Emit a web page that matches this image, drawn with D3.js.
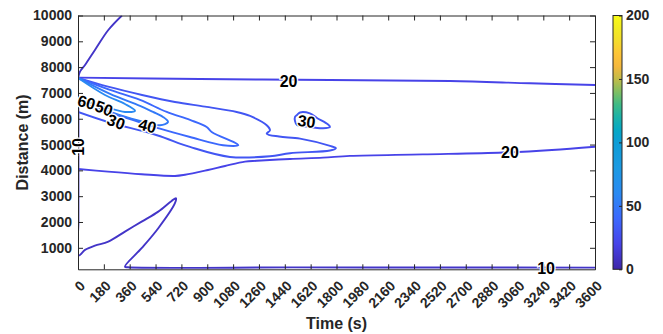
<!DOCTYPE html>
<html>
<head>
<meta charset="utf-8">
<script src="https://cdn.jsdelivr.net/npm/d3@7"></script>
<style>
  body { margin: 0; background: #fff; }
  svg text { font-family: "Liberation Sans", Arial, sans-serif; }
</style>
</head>
<body>
<div id="chart"></div>
<script>
// ticks
const timeTicks = [0, 180, 360, 540, 720, 900, 1080, 1260, 1440, 1620, 1800, 1980,
  2160, 2340, 2520, 2700, 2880, 3060, 3240, 3420, 3600];
const distTicks = [1000, 2000, 3000, 4000, 5000, 6000, 7000, 8000, 9000, 10000];
const cbarTicks = [0, 50, 100, 150, 200];

// contour lines, [time (s), distance (m)]
const c10Line = [[306, 10000], [211, 9438], [118, 8664], [49, 8083], [14, 7823], [3, 7618],
  [3, 6000], [3, 4000], [3, 2000], [3, 700], [49, 918], [118, 1085], [211, 1240], [327, 1627],
  [443, 2014], [559, 2401], [652, 2816], [682, 2920], [675, 2727], [559, 1758], [443, 984],
  [327, 271], [348, 245], [1500, 240], [2500, 238], [3600, 232]];
const c20Upper = [[0, 7595], [850, 7540], [1755, 7502], [2590, 7463], [3147, 7374], [3600, 7308]];
const c20Lower = [[0, 4055], [209, 3950], [443, 3850], [675, 3784], [745, 3830], [905, 4016],
  [1024, 4171], [1163, 4338], [1246, 4370], [1476, 4442], [1706, 4493], [1894, 4560],
  [2400, 4620], [2960, 4690], [3300, 4790], [3600, 4918]];
const c30Fan = [[0, 7580], [209, 7242], [446, 6921], [675, 6650], [884, 6468], [1105, 6263],
  [1198, 6108], [1314, 5748], [1337, 5554], [1314, 5422], [1400, 5310], [1546, 5230],
  [1755, 4946], [1796, 4857], [1755, 4771], [1476, 4663], [1337, 4547], [1058, 4520],
  [780, 4907], [550, 5360], [209, 5875], [0, 6263]];
const c30Island = [[1525, 6146], [1546, 6243], [1615, 6205], [1664, 6030], [1741, 5779],
  [1755, 5682], [1706, 5631], [1595, 5693], [1525, 5759], [1511, 5914], [1511, 6069]];
const c40 = [[0, 7580], [223, 7115], [432, 6727], [618, 6263], [780, 5953], [896, 5682],
  [931, 5488], [1105, 5035], [1116, 4973], [1010, 4973], [780, 5294], [571, 5616],
  [362, 5991], [153, 6340], [0, 6572]];
const c50 = [[0, 7580], [223, 6960], [432, 6495], [522, 6263], [592, 6069], [627, 5875],
  [571, 5748], [432, 5914], [223, 6263], [0, 6650]];
const c60 = [[0, 7580], [188, 6921], [327, 6572], [397, 6313], [327, 6263], [188, 6456], [0, 6766]];

// inline contour labels: [value, time, distance]
const contourLabels = [[20, 1466, 7462], [20, 3008, 4684], [30, 1591, 5894], [10, 3259, 180],
  [10, 0, 4908], [60, 59, 6630], [50, 181, 6398], [30, 265, 5875], [40, 484, 5720]];

// parula-like colormap
const parulaPos = [0, 0.1, 0.2, 0.3, 0.4, 0.5, 0.55, 0.6, 0.65, 0.7, 0.75, 0.8, 0.85, 0.9, 0.95, 1];
const parulaColors = ["#3e26a8", "#4743e8", "#3c68fd", "#2a8af2", "#1c9ae2", "#0d9dd6", "#06a8c4",
  "#1bb2a8", "#3fbb85", "#80be62", "#c2bc49", "#f5b83d", "#fdc537", "#f4dc2c", "#f2ec22", "#f9fb15"];

const W = 663, H = 334;
const plot = { left: 78, right: 595, top: 15.5, bottom: 269.3 };
const axisColor = "#262626";
const fmt = d3.format("d");

const svg = d3.select("#chart").append("svg")
  .attr("width", W).attr("height", H);

const x = d3.scaleLinear().domain([0, 3600]).range([plot.left, plot.right]);
const y = d3.scaleLinear().domain([167, 10000]).range([plot.bottom, plot.top]);
const color = d3.scaleLinear().domain(parulaPos.map(p => p * 200)).range(parulaColors);

svg.append("defs").append("clipPath").attr("id", "clip")
  .append("rect")
  .attr("x", plot.left).attr("y", plot.top)
  .attr("width", plot.right - plot.left).attr("height", plot.bottom - plot.top);

const line = d3.line().x(d => x(d[0])).y(d => y(d[1])).curve(d3.curveCatmullRom.alpha(0.5));
const loop = d3.line().x(d => x(d[0])).y(d => y(d[1])).curve(d3.curveCatmullRomClosed.alpha(0.5));

const contours = [
  { level: 10, pts: c10Line, gen: line },
  { level: 20, pts: c20Upper, gen: line },
  { level: 20, pts: c20Lower, gen: line },
  { level: 30, pts: c30Fan, gen: line },
  { level: 30, pts: c30Island, gen: loop },
  { level: 40, pts: c40, gen: line },
  { level: 50, pts: c50, gen: line },
  { level: 60, pts: c60, gen: line }
];

const lines = svg.append("g").attr("clip-path", "url(#clip)");
contours.forEach(c => {
  lines.append("path")
    .attr("d", c.gen(c.pts))
    .attr("fill", "none")
    .attr("stroke", color(c.level))
    .attr("stroke-width", 1.9)
    .attr("stroke-linejoin", "round");
});

// axes, MATLAB style box with inward ticks
const gx = svg.append("g")
  .attr("transform", `translate(0,${plot.bottom})`)
  .call(d3.axisBottom(x).tickValues(timeTicks).tickFormat(fmt)
    .tickSizeInner(-5).tickSizeOuter(0).tickPadding(0));
gx.selectAll("text")
  .attr("y", 0).attr("dy", "0.35em")
  .attr("text-anchor", "end")
  .attr("transform", "translate(4,14) rotate(-45)");

svg.append("g")
  .attr("transform", `translate(0,${plot.top})`)
  .call(d3.axisTop(x).tickValues(timeTicks).tickSizeInner(-5).tickSizeOuter(0).tickFormat(""));

svg.append("g")
  .attr("transform", `translate(${plot.left},0)`)
  .call(d3.axisLeft(y).tickValues(distTicks).tickFormat(fmt)
    .tickSizeInner(-5).tickSizeOuter(0).tickPadding(6));

svg.append("g")
  .attr("transform", `translate(${plot.right},0)`)
  .call(d3.axisRight(y).tickValues(distTicks).tickSizeInner(-5).tickSizeOuter(0).tickFormat(""));

svg.selectAll(".tick line, .domain").attr("stroke", axisColor);
svg.selectAll(".tick text")
  .attr("fill", axisColor)
  .attr("font-size", 14)
  .attr("font-weight", "bold");

// axis titles
svg.append("text")
  .attr("x", (plot.left + plot.right) / 2).attr("y", 323)
  .attr("text-anchor", "middle").attr("dominant-baseline", "central")
  .attr("font-size", 16).attr("font-weight", "bold").attr("fill", axisColor)
  .text("Time (s)");
svg.append("text")
  .attr("transform", `translate(22,${(plot.top + plot.bottom) / 2}) rotate(-90)`)
  .attr("text-anchor", "middle").attr("dominant-baseline", "central")
  .attr("font-size", 16).attr("font-weight", "bold").attr("fill", axisColor)
  .text("Distance (m)");

// contour labels
const labelAngle = [0, 0, 8, 0, -90, 15, 20, 20, 15];
svg.append("g").selectAll("text")
  .data(contourLabels)
  .join("text")
  .attr("transform", (d, i) => `translate(${x(d[1])},${y(d[2])}) rotate(${labelAngle[i]})`)
  .attr("text-anchor", "middle")
  .attr("dominant-baseline", "central")
  .attr("font-size", 16)
  .attr("font-weight", "bold")
  .attr("fill", "#000")
  .attr("stroke", "#fff")
  .attr("stroke-width", 2.5)
  .attr("paint-order", "stroke")
  .text(d => d[0]);

// colorbar
const cb = { x: 613, w: 9 };
const cy = d3.scaleLinear().domain([0, 200]).range([plot.bottom, plot.top]);
const grad = svg.select("defs").append("linearGradient")
  .attr("id", "parula").attr("x1", 0).attr("y1", 1).attr("x2", 0).attr("y2", 0);
grad.selectAll("stop")
  .data(parulaPos)
  .join("stop")
  .attr("offset", d => d)
  .attr("stop-color", (d, i) => parulaColors[i]);

svg.append("rect")
  .attr("x", cb.x).attr("y", plot.top)
  .attr("width", cb.w).attr("height", plot.bottom - plot.top)
  .attr("fill", "url(#parula)")
  .attr("stroke", axisColor).attr("stroke-width", 1);

const gc = svg.append("g")
  .attr("transform", `translate(${cb.x + cb.w},0)`)
  .call(d3.axisRight(cy).tickValues(cbarTicks).tickSizeInner(-3).tickSizeOuter(0).tickPadding(4));
gc.select(".domain").remove();
gc.selectAll(".tick line").attr("stroke", axisColor);
gc.selectAll(".tick text")
  .attr("fill", axisColor)
  .attr("font-size", 14)
  .attr("font-weight", "bold");
</script>
</body>
</html>
